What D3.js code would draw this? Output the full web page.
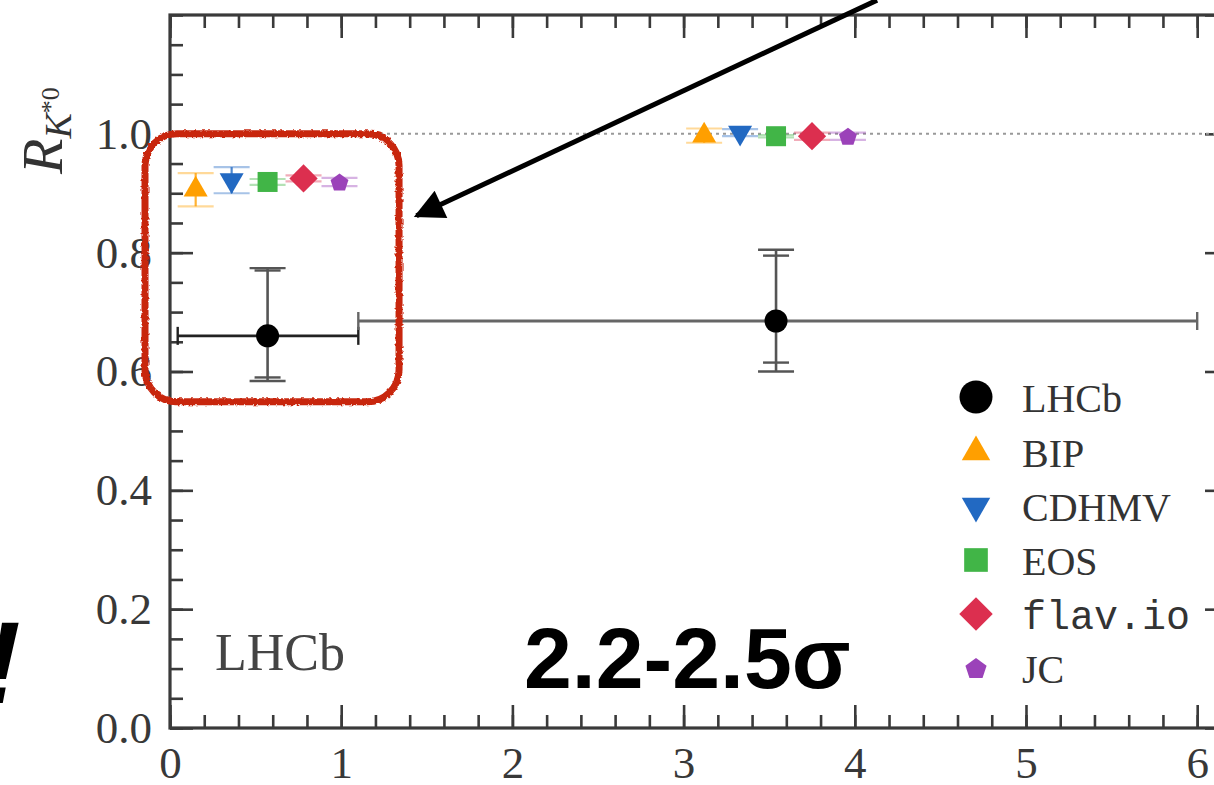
<!DOCTYPE html>
<html>
<head>
<meta charset="utf-8">
<script src="https://cdn.jsdelivr.net/npm/d3@7"></script>
<style>
  html, body { margin: 0; padding: 0; background: #fff; }
  svg { display: block; }
</style>
</head>
<body>
<svg id="chart" width="1214" height="785"></svg>
<script>
// ---- data -------------------------------------------------------------
// LHCb measurement of R_K*0 in two q^2 bins (GeV^2/c^4)
const lhcbBinLow  = [0.045, 1.1];
const lhcbBinHigh = [1.1, 6.0];
const lhcbCentre  = [0.57, 3.54];
const lhcbValue   = [0.66, 0.685];
const lhcbStatUp  = [0.11, 0.11];
const lhcbStatDn  = [0.07, 0.07];
const lhcbTotUp   = [0.114, 0.12];
const lhcbTotDn   = [0.076, 0.085];

// SM predictions, one entry per bin
const models      = ["BIP", "CDHMV", "EOS", "flav.io", "JC"];
const modelX      = [[0.15, 3.12], [0.36, 3.33], [0.57, 3.54], [0.78, 3.75], [0.99, 3.96]];
const modelValue  = [[0.906, 0.997], [0.922, 1.002], [0.919, 0.996], [0.925, 0.996], [0.919, 0.996]];
const modelErr    = [[0.028, 0.012], [0.022, 0.006], [0.005, 0.002], [0.005, 0.006], [0.007, 0.006]];
const modelColor  = ["#ff9f00", "#2269c2", "#41b547", "#dc2f4f", "#9b42b9"];
const modelSymbol = ["triangleUp", "triangleDown", "square", "diamond", "pentagon"];

const legendLabels = ["LHCb", "BIP", "CDHMV", "EOS", "flav.io", "JC"];

const xMajorTicks = [0, 1, 2, 3, 4, 5, 6];
const yMajorTicks = [0.0, 0.2, 0.4, 0.6, 0.8, 1.0];
const smReference = 1.0;
const significance = "2.2-2.5σ";

// ---- layout -----------------------------------------------------------
const W = 1214, H = 785;
const plot = { left: 170, top: 15, right: 1228, bottom: 728 };
const x = d3.scaleLinear().domain([0, 6.18]).range([plot.left, plot.right]);
const y = d3.scaleLinear().domain([0, 1.2]).range([plot.bottom, plot.top]);

const svg = d3.select("#chart");
svg.append("rect").attr("width", W).attr("height", H).attr("fill", "#fff");

const serif = "'Liberation Serif', 'DejaVu Serif', serif";
const axisColor = "#3a3a3a";

// ---- frame and ticks (inward on all sides) -----------------------------
const xMinor = d3.range(0, 6.19, 0.2).map(v => +v.toFixed(2));
const yMinor = d3.range(0, 1.201, 0.05).map(v => +v.toFixed(2));
const yAllMajor = [0, 0.2, 0.4, 0.6, 0.8, 1.0, 1.2];

function styleAxis(g) {
  g.selectAll(".domain").remove();
  g.selectAll(".tick line").attr("stroke", axisColor).attr("stroke-width", 2.6);
}
function styleLabels(g) {
  g.selectAll("text").attr("font-family", serif).attr("font-size", 45).attr("fill", "#383838");
}

const axes = svg.append("g");
// bottom
axes.append("g").attr("transform", `translate(0,${plot.bottom})`)
  .call(d3.axisBottom(x).tickValues(xMinor).tickSize(-13).tickFormat("")).call(styleAxis);
axes.append("g").attr("transform", `translate(0,${plot.bottom})`)
  .call(d3.axisBottom(x).tickValues(xMajorTicks).tickSize(-23).tickPadding(18).tickFormat(d3.format("d")))
  .call(styleAxis).call(styleLabels);
// top
axes.append("g").attr("transform", `translate(0,${plot.top})`)
  .call(d3.axisTop(x).tickValues(xMinor).tickSize(-13).tickFormat("")).call(styleAxis);
axes.append("g").attr("transform", `translate(0,${plot.top})`)
  .call(d3.axisTop(x).tickValues(xMajorTicks).tickSize(-23).tickFormat("")).call(styleAxis);
// left
axes.append("g").attr("transform", `translate(${plot.left},0)`)
  .call(d3.axisLeft(y).tickValues(yMinor).tickSize(-13).tickFormat("")).call(styleAxis);
axes.append("g").attr("transform", `translate(${plot.left},0)`)
  .call(d3.axisLeft(y).tickValues(yMajorTicks).tickSize(-23).tickPadding(18).tickFormat(d3.format(".1f")))
  .call(styleAxis).call(styleLabels);
// right
axes.append("g").attr("transform", `translate(${plot.right},0)`)
  .call(d3.axisRight(y).tickValues(yMinor).tickSize(-13).tickFormat("")).call(styleAxis);
axes.append("g").attr("transform", `translate(${plot.right},0)`)
  .call(d3.axisRight(y).tickValues(yAllMajor).tickSize(-23).tickFormat("")).call(styleAxis);

// frame
axes.append("rect")
  .attr("x", plot.left).attr("y", plot.top)
  .attr("width", plot.right - plot.left).attr("height", plot.bottom - plot.top)
  .attr("fill", "none").attr("stroke", axisColor).attr("stroke-width", 3.2);

// y-axis title R_{K*0}
const yTitle = svg.append("text")
  .attr("transform", `translate(62,174) rotate(-90)`)
  .attr("font-family", serif).attr("fill", "#333");
yTitle.append("tspan").attr("font-style", "italic").attr("font-size", 58).text("R");
yTitle.append("tspan").attr("font-style", "italic").attr("font-size", 38).attr("dy", 9).text("K");
yTitle.append("tspan").attr("font-size", 26).attr("dy", -12).text("*0");

// SM reference line
svg.append("line")
  .attr("x1", x(0)).attr("x2", x(6.18))
  .attr("y1", y(smReference)).attr("y2", y(smReference))
  .attr("stroke", "#999").attr("stroke-width", 2).attr("stroke-dasharray", "3,4");

// ---- symbols ------------------------------------------------------------
const symbolPentagon = {
  draw(ctx, size) {
    const r = Math.sqrt(size / 2.3776);
    for (let i = 0; i < 5; i++) {
      const a = -Math.PI / 2 + i * 2 * Math.PI / 5;
      const px = r * Math.cos(a), py = r * Math.sin(a) + r * 0.1;
      if (i === 0) ctx.moveTo(px, py); else ctx.lineTo(px, py);
    }
    ctx.closePath();
  }
};
function symbolPath(kind, scale) {
  const base = { triangleUp: 250, triangleDown: 250, square: 400, diamond: 400, pentagon: 210 }[kind] * scale;
  const type = { triangleUp: d3.symbolTriangle, triangleDown: d3.symbolTriangle, square: d3.symbolSquare,
                 diamond: d3.symbolSquare, pentagon: symbolPentagon }[kind];
  return d3.symbol().type(type).size(base)();
}
function symbolRotation(kind) {
  return kind === "triangleDown" ? 180 : kind === "diamond" ? 45 : 0;
}

// ---- LHCb points ----------------------------------------------------------
const meas = svg.append("g");
lhcbValue.forEach((v, i) => {
  const cx = x(lhcbCentre[i]);
  const hColor = i === 0 ? "#222" : "#666";
  meas.append("line")
    .attr("x1", x(lhcbBinLow[i])).attr("x2", x(lhcbBinHigh[i]))
    .attr("y1", y(v)).attr("y2", y(v))
    .attr("stroke", hColor).attr("stroke-width", 2.8);
  [lhcbBinLow[i], lhcbBinHigh[i]].forEach(e => {
    meas.append("line")
      .attr("x1", x(e)).attr("x2", x(e))
      .attr("y1", y(v) - 9).attr("y2", y(v) + 9)
      .attr("stroke", hColor).attr("stroke-width", 2.4);
  });
  meas.append("line")
    .attr("x1", cx).attr("x2", cx)
    .attr("y1", y(v + lhcbTotUp[i])).attr("y2", y(v - lhcbTotDn[i]))
    .attr("stroke", "#555").attr("stroke-width", 2.6);
  [[v + lhcbTotUp[i], 18], [v - lhcbTotDn[i], 18], [v + lhcbStatUp[i], 13], [v - lhcbStatDn[i], 13]].forEach(([cv, hw]) => {
    meas.append("line")
      .attr("x1", cx - hw).attr("x2", cx + hw)
      .attr("y1", y(cv)).attr("y2", y(cv))
      .attr("stroke", "#555").attr("stroke-width", 2.4);
  });
  meas.append("circle").attr("cx", cx).attr("cy", y(v)).attr("r", 11.5).attr("fill", "#000");
});

// ---- predictions ------------------------------------------------------------
const preds = svg.append("g");
models.forEach((m, k) => {
  const col = modelColor[k];
  modelValue[k].forEach((v, b) => {
    const px = x(modelX[k][b]);
    const e = modelErr[k][b];
    preds.append("line")
      .attr("x1", px).attr("x2", px).attr("y1", y(v + e)).attr("y2", y(v - e))
      .attr("stroke", col).attr("stroke-width", 2.2).attr("stroke-opacity", 0.8);
    [v + e, v - e].forEach(cv => {
      preds.append("line")
        .attr("x1", px - 18).attr("x2", px + 18).attr("y1", y(cv)).attr("y2", y(cv))
        .attr("stroke", col).attr("stroke-width", 2.2).attr("stroke-opacity", 0.4);
    });
    preds.append("path")
      .attr("d", symbolPath(modelSymbol[k], 1))
      .attr("transform", `translate(${px},${y(v)}) rotate(${symbolRotation(modelSymbol[k])})`)
      .attr("fill", col);
  });
});

// ---- legend -------------------------------------------------------------------
const legend = svg.append("g").attr("transform", "translate(976,0)");
const legendRows = [397, 452, 506, 560, 614, 668];
legendLabels.forEach((lab, i) => {
  const cy = legendRows[i];
  if (i === 0) {
    legend.append("circle").attr("cx", 0).attr("cy", cy).attr("r", 16.5).attr("fill", "#000");
  } else {
    const kind = modelSymbol[i - 1];
    legend.append("path")
      .attr("d", symbolPath(kind, 1.4))
      .attr("transform", `translate(0,${cy}) rotate(${symbolRotation(kind)})`)
      .attr("fill", modelColor[i - 1]);
  }
  legend.append("text")
    .attr("x", 46).attr("y", cy + 15)
    .attr("font-family", lab === "flav.io" ? "'Liberation Mono', 'DejaVu Sans Mono', monospace" : serif)
    .attr("font-size", 40).attr("fill", "#333")
    .text(lab);
});

// experiment label
svg.append("text")
  .attr("x", 215).attr("y", 670)
  .attr("font-family", serif).attr("font-size", 52).attr("fill", "#444")
  .text("LHCb");

// significance annotation
svg.append("text")
  .attr("x", 524).attr("y", 688)
  .attr("font-family", "'Liberation Sans', Arial, sans-serif").attr("font-weight", "bold")
  .attr("font-size", 86).attr("fill", "#000")
  .text(significance);

// exclamation at left margin
svg.append("text")
  .attr("x", -18).attr("y", 703)
  .attr("font-family", "'Liberation Sans', Arial, sans-serif").attr("font-weight", "bold")
  .attr("font-style", "italic")
  .attr("font-size", 116).attr("fill", "#000")
  .text("!");

// ---- highlight box and arrow on the low-q2 bin ----------------------------------
const defs = svg.append("defs");
const rough = defs.append("filter").attr("id", "rough")
  .attr("x", "-10%").attr("y", "-10%").attr("width", "120%").attr("height", "120%");
rough.append("feTurbulence").attr("type", "fractalNoise").attr("baseFrequency", 0.35)
  .attr("numOctaves", 2).attr("seed", 3).attr("result", "noise");
rough.append("feDisplacementMap").attr("in", "SourceGraphic").attr("in2", "noise")
  .attr("scale", 3.5).attr("xChannelSelector", "R").attr("yChannelSelector", "G");

const boxX0 = -0.146, boxX1 = 1.338, boxY0 = 0.549, boxY1 = 1.0;
svg.append("rect")
  .attr("x", x(boxX0)).attr("y", y(boxY1))
  .attr("width", x(boxX1) - x(boxX0)).attr("height", y(boxY0) - y(boxY1))
  .attr("rx", 32).attr("ry", 32)
  .attr("fill", "none").attr("stroke", "#c8260f").attr("stroke-width", 7)
  .attr("filter", "url(#rough)");

defs.append("marker").attr("id", "head")
  .attr("viewBox", "0 0 10 10").attr("refX", 9).attr("refY", 5)
  .attr("markerWidth", 7).attr("markerHeight", 6).attr("markerUnits", "strokeWidth")
  .attr("orient", "auto")
  .append("path").attr("d", "M0,0 L10,5 L0,10 Z").attr("fill", "#000");

const arrowFrom = [4.13, 1.225], arrowTo = [1.44, 0.862];
svg.append("line")
  .attr("x1", x(arrowFrom[0])).attr("y1", y(arrowFrom[1]))
  .attr("x2", x(arrowTo[0])).attr("y2", y(arrowTo[1]))
  .attr("stroke", "#000").attr("stroke-width", 5)
  .attr("marker-end", "url(#head)");
</script>
</body>
</html>
